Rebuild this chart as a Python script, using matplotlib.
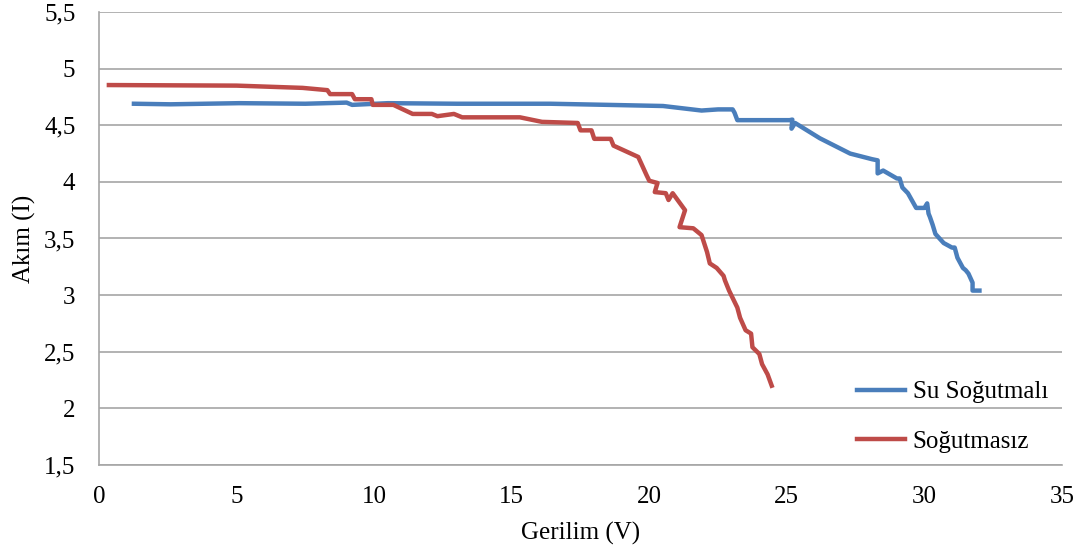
import matplotlib
matplotlib.use('Agg')
import matplotlib.pyplot as plt
from matplotlib.ticker import FuncFormatter, MultipleLocator

# Su Soğutmalı (blue)
su_v = [1.27, 2.6, 5.1, 7.5, 9.0, 9.2, 10.5, 13.0, 16.4, 18.5, 20.5, 21.9, 22.5, 23.03, 23.1, 23.2, 25.1,
        25.2, 25.17, 25.3, 26.2, 27.3, 28.1, 28.3, 28.3, 28.5, 29.0, 29.1, 29.2, 29.4, 29.7, 30.0, 30.1,
        30.15, 30.2, 30.3, 30.4, 30.7, 31.0, 31.1, 31.2, 31.4, 31.5, 31.6, 31.75, 31.75, 32.0]
su_i = [4.69, 4.685, 4.695, 4.69, 4.70, 4.68, 4.695, 4.69, 4.69, 4.68, 4.67, 4.63, 4.64, 4.64, 4.61, 4.545, 4.545,
        4.55, 4.47, 4.52, 4.385, 4.25, 4.20, 4.19, 4.075, 4.10, 4.03, 4.03, 3.95, 3.90, 3.77, 3.77, 3.81,
        3.72, 3.69, 3.62, 3.54, 3.46, 3.42, 3.42, 3.33, 3.24, 3.22, 3.19, 3.11, 3.04, 3.04]

# Soğutmasız (red)
sg_v = [0.36, 5.0, 7.4, 8.3, 8.4, 9.2, 9.3, 9.9, 9.95, 10.7, 11.4, 12.1, 12.3, 12.9, 13.2, 15.3, 16.1, 17.4,
        17.5, 17.9, 18.0, 18.6, 18.7, 19.6, 19.9, 20.0, 20.3, 20.2, 20.6, 20.7, 20.85, 21.3, 21.1, 21.6,
        21.9, 22.1, 22.2, 22.45, 22.7, 22.75, 22.9, 23.2, 23.3, 23.5, 23.7, 23.75, 24.0, 24.1, 24.3, 24.45]
sg_i = [4.855, 4.85, 4.83, 4.81, 4.775, 4.775, 4.73, 4.73, 4.68, 4.68, 4.60, 4.60, 4.58, 4.60, 4.57, 4.57, 4.53, 4.52,
        4.455, 4.455, 4.38, 4.38, 4.32, 4.22, 4.06, 4.01, 3.99, 3.91, 3.90, 3.84, 3.90, 3.75, 3.60, 3.59,
        3.53, 3.38, 3.28, 3.24, 3.17, 3.13, 3.04, 2.89, 2.80, 2.69, 2.66, 2.54, 2.48, 2.39, 2.30, 2.20]

plt.rcParams['font.family'] = ['Liberation Serif', 'DejaVu Serif']

fig = plt.figure(figsize=(10.83, 5.56), dpi=100)
ax = fig.add_axes([0.0914, 0.1637, 0.8892, 0.8147])

ax.plot(su_v, su_i, '-', c='#4a7ebb', lw=3.2, label='Su Soğutmalı', solid_joinstyle='round')
ax.plot(sg_v, sg_i, '-', c='#be4b48', lw=3.2, label='Soğutmasız', solid_joinstyle='round')

ax.set_xlim(0, 35)
ax.set_ylim(1.5, 5.5)
ax.xaxis.set_major_locator(MultipleLocator(5))
ax.yaxis.set_major_locator(MultipleLocator(0.5))
ax.yaxis.set_major_formatter(FuncFormatter(lambda v, p: ('%g' % v).replace('.', ',')))
ax.yaxis.grid(True, color='#a6a6a6', lw=1.2)
ax.set_axisbelow(True)

for s in ['top', 'right']:
    ax.spines[s].set_visible(False)
for s in ['left', 'bottom']:
    ax.spines[s].set_color('#a6a6a6')
    ax.spines[s].set_linewidth(1.2)
ax.tick_params(length=0, labelsize=18)
ax.tick_params(axis='x', pad=15)
ax.tick_params(axis='y', pad=17)

ax.set_xlabel('Gerilim (V)', fontsize=18, labelpad=10)
ax.set_ylabel('Akım (I)', fontsize=18, labelpad=6)

ax.legend(loc='center left', bbox_to_anchor=(0.787, 0.106), frameon=False, fontsize=18,
          handlelength=1.92, handletextpad=0.32, labelspacing=1.08, borderpad=0, borderaxespad=0)

fig.savefig('out.png', dpi=100)
